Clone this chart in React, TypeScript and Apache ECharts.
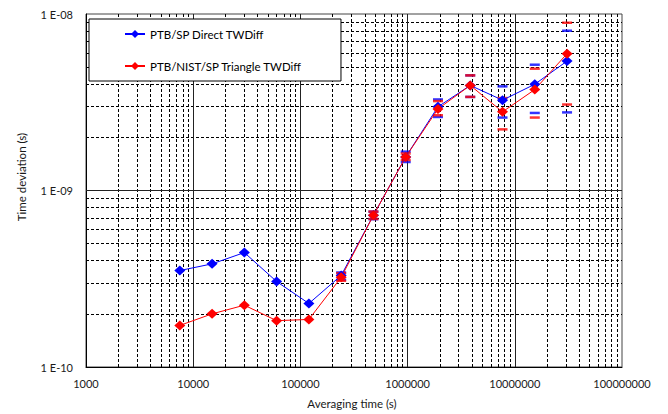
import React, { useEffect, useRef } from "react";
import * as echarts from "echarts";

// Averaging times (s)
const tau = [7500, 15000, 30000, 60000, 120000, 240000, 480000, 960000, 1920000, 3840000, 7680000, 15360000, 30720000];

// Time deviation (s)
const blueTdev = [3.52e-10, 3.84e-10, 4.45e-10, 3.05e-10, 2.29e-10, 3.3e-10, 7.24e-10, 1.55e-9, 2.98e-9, 3.94e-9, 3.25e-9, 4.0e-9, 5.41e-9];
const redTdev = [1.72e-10, 2.0e-10, 2.24e-10, 1.83e-10, 1.86e-10, 3.22e-10, 7.24e-10, 1.55e-9, 2.9e-9, 3.94e-9, 2.79e-9, 3.73e-9, 5.96e-9];

// Error bar bounds (null = not drawn)
const blueUpper = [null, null, null, null, null, 3.43e-10, 7.59e-10, 1.66e-9, 3.28e-9, 4.49e-9, 3.89e-9, 5.16e-9, 8.04e-9];
const blueLower = [null, null, null, null, null, 3.12e-10, 6.88e-10, 1.45e-9, 2.61e-9, 3.39e-9, 2.59e-9, 2.75e-9, 2.77e-9];
const redUpper = [null, null, null, null, null, 3.4e-10, 7.59e-10, 1.62e-9, 3.21e-9, 4.49e-9, 3.34e-9, 4.9e-9, 8.92e-9];
const redLower = [null, null, null, null, null, 3.08e-10, 6.9e-10, 1.49e-9, 2.67e-9, 3.39e-9, 2.22e-9, 2.59e-9, 3.07e-9];

const seriesNames = ["PTB/SP Direct TWDiff", "PTB/NIST/SP Triangle TWDiff"];
const seriesColors = ["#0000FF", "#FF0000"];

// Axis ticks
const xMajorTicks = [1000, 10000, 100000, 1000000, 10000000, 100000000];
const yMajorTicks = [1e-10, 1e-9, 1e-8];
const minorMultipliers = [2, 3, 4, 5, 6, 7, 8, 9];

const FONT = "Lato";

export default function App() {
  const ref = useRef<HTMLDivElement>(null);

  useEffect(() => {
    document.body.style.margin = "0";
    const chart = echarts.init(ref.current!, null, { renderer: "svg" });

    const pairs = (ys: (number | null)[]) =>
      tau.map((t, i) => [t, ys[i]]).filter((p) => p[1] != null);

    const xMin = xMajorTicks[0];
    const xMax = xMajorTicks[xMajorTicks.length - 1];
    const yMin = yMajorTicks[0];
    const yMax = yMajorTicks[yMajorTicks.length - 1];

    const xMinor: number[] = [];
    xMajorTicks.slice(0, -1).forEach((d) => minorMultipliers.forEach((m) => xMinor.push(d * m)));
    const yMinor: number[] = [];
    yMajorTicks.slice(0, -1).forEach((d) => minorMultipliers.forEach((m) => yMinor.push(d * m)));
    const xInnerMajor = xMajorTicks.slice(1, -1);
    const yInnerMajor = yMajorTicks.slice(1, -1);

    const minorStyle = { type: [3, 2], color: "#000", width: 1 };
    const majorStyle = { type: "solid", color: "#222", width: 1 };

    const vLine = (v: number, style: any) => [
      { coord: [v, yMin], lineStyle: style },
      { coord: [v, yMax] },
    ];
    const hLine = (v: number, style: any) => [
      { coord: [xMin, v], lineStyle: style },
      { coord: [xMax, v] },
    ];

    const gridLines = [
      ...xMinor.map((v) => vLine(v, minorStyle)),
      ...yMinor.map((v) => hLine(v, minorStyle)),
      ...xInnerMajor.map((v) => vLine(v, majorStyle)),
      ...yInnerMajor.map((v) => hLine(v, majorStyle)),
    ];

    const lineSeries = (name: string, color: string, ys: number[]) => ({
      name,
      type: "line",
      data: pairs(ys),
      symbol: "diamond",
      symbolSize: [11, 10],
      z: 5,
      lineStyle: { color, width: 1 },
      itemStyle: { color },
    });

    const barSeries = (color: string, ys: (number | null)[]) => ({
      type: "scatter",
      data: pairs(ys),
      symbol: "rect",
      symbolSize: [10, 2.5],
      z: 4,
      itemStyle: { color },
      silent: true,
    });

    const option = {
      animation: false,
      backgroundColor: "#fff",
      textStyle: { fontFamily: FONT },
      grid: {
        left: 86,
        right: 46,
        top: 14,
        bottom: 47,
        show: true,
        borderColor: "#444",
        borderWidth: 1,
        backgroundColor: "transparent",
      },
      xAxis: {
        type: "log",
        logBase: 10,
        min: xMin,
        max: xMax,
        splitNumber: 5,
        axisLine: { show: true, lineStyle: { color: "#000", width: 1 } },
        axisTick: { show: false },
        splitLine: { show: false },
        axisLabel: {
          margin: 11,
          fontFamily: FONT,
          fontSize: 11,
          color: "#1a1a1a",
          formatter: (v: number) => String(Math.round(v)),
        },
      },
      yAxis: {
        type: "log",
        logBase: 10,
        min: yMin,
        max: yMax,
        splitNumber: 2,
        axisLine: { show: true, lineStyle: { color: "#000", width: 1 } },
        axisTick: { show: false },
        splitLine: { show: false },
        axisLabel: {
          margin: 13,
          fontFamily: FONT,
          fontSize: 11,
          color: "#1a1a1a",
          formatter: (v: number) => {
            const e = Math.round(Math.log10(v));
            return "1 E-" + String(-e).padStart(2, "0");
          },
        },
      },
      legend: {
        data: seriesNames,
        orient: "vertical",
        left: 89,
        top: 19,
        z: 20,
        padding: [9, 39, 9, 35],
        itemGap: 20,
        itemWidth: 20,
        itemHeight: 10,
        backgroundColor: "#fff",
        borderColor: "#000",
        borderWidth: 1,
        borderRadius: 0,
        textStyle: { fontFamily: FONT, fontSize: 11.5, color: "#000" },
      },
      graphic: [
        {
          type: "text",
          x: 21,
          y: 177,
          rotation: Math.PI / 2,
          style: {
            text: "Time deviation (s)",
            fontFamily: FONT,
            fontSize: 11.5,
            fill: "#1a1a1a",
            textAlign: "center",
            textVerticalAlign: "middle",
          },
        },
        {
          type: "text",
          x: 352,
          y: 403,
          style: {
            text: "Averaging time (s)",
            fontFamily: FONT,
            fontSize: 11.5,
            fill: "#1a1a1a",
            textAlign: "center",
            textVerticalAlign: "middle",
          },
        },
      ],
      series: [
        {
          type: "line",
          data: [[xMin, yMin]],
          symbol: "none",
          lineStyle: { opacity: 0 },
          silent: true,
          z: 1,
          markLine: {
            silent: true,
            z: 1,
            symbol: "none",
            label: { show: false },
            data: gridLines,
          },
        },
        barSeries(seriesColors[0], blueUpper),
        barSeries(seriesColors[0], blueLower),
        lineSeries(seriesNames[0], seriesColors[0], blueTdev),
        barSeries(seriesColors[1], redUpper),
        barSeries(seriesColors[1], redLower),
        lineSeries(seriesNames[1], seriesColors[1], redTdev),
      ],
    };

    chart.setOption(option as any);
    return () => chart.dispose();
  }, []);

  return <div ref={ref} style={{ width: 668, height: 414 }} />;
}
